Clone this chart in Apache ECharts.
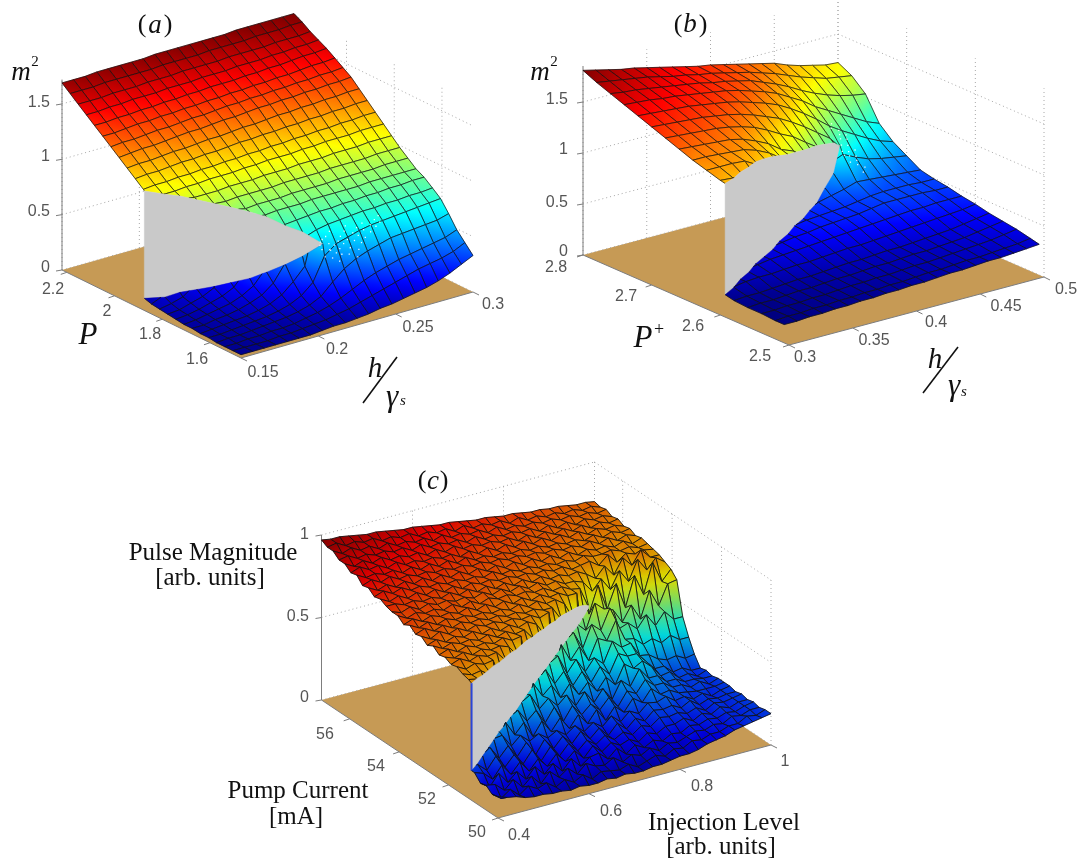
<!DOCTYPE html>
<html><head><meta charset="utf-8"><style>html,body{margin:0;background:#fff}#c{width:1080px;height:865px}</style>
<script src="https://cdn.jsdelivr.net/npm/echarts@6/dist/echarts.min.js"></script></head><body><div id="c"></div>
<script>
// ---------- panel (a) values ----------
const hA=[.15,.1575,.165,.1725,.18,.1875,.195,.2025,.21,.2175,.225,.2325,.24,.2475,.255,.2625,.27,.2775,.285,.2925,.3];
const pA=[1.47,1.504,1.538,1.572,1.606,1.64,1.675,1.709,1.743,1.777,1.811,1.845,1.879,1.913,1.947,1.981,2.015,2.049,2.084,2.118,2.152,2.186,2.22];
const zA=[
[.03,.03,.03,.03,.03,.03,.03,.04,.05,.05,.06,.07,.09,.10,.12,.14,.16,.19,.23,.28,.33],
[.03,.03,.03,.03,.04,.04,.05,.06,.07,.09,.11,.14,.17,.20,.23,.26,.29,.31,.33,.36,.41],
[.03,.03,.04,.04,.05,.05,.06,.08,.10,.13,.17,.22,.27,.31,.34,.37,.39,.41,.43,.45,.49],
[.03,.04,.04,.05,.06,.07,.08,.10,.13,.18,.28,.37,.43,.47,.50,.53,.54,.55,.56,.57,.60],
[.04,.04,.05,.06,.07,.08,.10,.13,.18,.27,.48,.56,.59,.62,.64,.65,.66,.67,.68,.69,.70],
[.04,.05,.06,.07,.08,.10,.13,.18,.27,.38,.68,.70,.71,.72,.73,.73,.74,.74,.75,.75,.76],
[.05,.05,.07,.08,.10,.13,.17,.25,.75,.76,.77,.78,.78,.79,.79,.80,.80,.81,.81,.82,.82],
[.05,.06,.08,.10,.12,.16,.22,.83,.84,.84,.84,.85,.85,.85,.85,.85,.86,.86,.86,.86,.86],
[.06,.07,.09,.12,.15,.20,.88,.89,.89,.89,.90,.90,.90,.90,.91,.91,.91,.91,.92,.92,.92],
[.07,.08,.11,.14,.19,.94,.95,.95,.95,.95,.96,.96,.96,.96,.97,.97,.97,.97,.98,.98,.98],
[.08,.10,.13,1.00,1.00,1.00,1.01,1.01,1.01,1.02,1.02,1.02,1.03,1.03,1.03,1.04,1.04,1.04,1.05,1.05,1.05],
[.09,1.05,1.05,1.06,1.06,1.07,1.07,1.07,1.08,1.08,1.09,1.09,1.09,1.10,1.10,1.11,1.11,1.11,1.12,1.12,1.12],
[1.09,1.10,1.10,1.11,1.11,1.12,1.12,1.13,1.13,1.14,1.14,1.15,1.15,1.16,1.16,1.17,1.17,1.18,1.18,1.19,1.19],
[1.15,1.16,1.16,1.17,1.18,1.18,1.19,1.19,1.20,1.21,1.21,1.22,1.22,1.23,1.23,1.24,1.24,1.25,1.25,1.26,1.26],
[1.21,1.22,1.22,1.23,1.24,1.24,1.25,1.26,1.26,1.27,1.28,1.28,1.29,1.30,1.30,1.31,1.31,1.32,1.32,1.33,1.33],
[1.27,1.28,1.29,1.29,1.30,1.31,1.32,1.32,1.33,1.34,1.34,1.35,1.36,1.36,1.37,1.37,1.38,1.38,1.39,1.39,1.40],
[1.33,1.34,1.34,1.35,1.36,1.36,1.37,1.38,1.38,1.39,1.40,1.40,1.41,1.41,1.42,1.42,1.43,1.43,1.44,1.44,1.45],
[1.39,1.39,1.40,1.41,1.41,1.42,1.42,1.43,1.43,1.44,1.44,1.45,1.45,1.46,1.46,1.47,1.47,1.48,1.49,1.49,1.50],
[1.45,1.45,1.46,1.46,1.47,1.47,1.48,1.48,1.49,1.49,1.50,1.50,1.50,1.51,1.51,1.52,1.52,1.53,1.54,1.54,1.55],
[1.51,1.51,1.52,1.52,1.53,1.53,1.53,1.54,1.54,1.54,1.55,1.55,1.55,1.56,1.56,1.56,1.57,1.57,1.58,1.58,1.59],
[1.57,1.57,1.57,1.58,1.58,1.58,1.59,1.59,1.59,1.60,1.60,1.60,1.60,1.61,1.61,1.61,1.61,1.62,1.62,1.62,1.63],
[1.63,1.63,1.63,1.64,1.64,1.64,1.64,1.64,1.65,1.65,1.65,1.65,1.66,1.66,1.66,1.66,1.67,1.67,1.67,1.68,1.68],
[1.69,1.69,1.69,1.70,1.70,1.70,1.70,1.70,1.71,1.71,1.71,1.71,1.71,1.71,1.71,1.72,1.72,1.72,1.72,1.72,1.72]];
const foldPA=[1.875,1.838,1.823,1.80,1.778,1.755,1.725,1.703,1.673,1.65,1.613];
const foldUpA=[1.08,1.06,1.03,.99,.95,.91,.87,.82,.74,.68,.58];
const foldLowA=[.11,.13,.16,.18,.20,.23,.27,.32,.39,.46,.58];
const speckA=[[.222,1.60,.56],[.226,1.59,.55],[.224,1.62,.60],[.228,1.61,.58],[.230,1.60,.57],[.226,1.625,.61],[.232,1.59,.54],[.229,1.63,.62],[.234,1.61,.58],[.231,1.575,.51],[.236,1.60,.56],[.233,1.64,.64],[.237,1.62,.60],[.240,1.61,.57],[.238,1.585,.53],[.241,1.63,.62],[.243,1.60,.56],[.245,1.62,.60],[.244,1.645,.64],[.247,1.61,.58],[.249,1.63,.62],[.250,1.60,.56],[.252,1.62,.60],[.254,1.64,.63],[.255,1.61,.58],[.258,1.63,.61],[.260,1.62,.60],[.262,1.64,.63],[.264,1.63,.61],[.266,1.65,.64],[.225,1.575,.50],[.228,1.565,.47],[.221,1.58,.52],[.235,1.57,.50],[.239,1.56,.47],[.242,1.575,.51],[.227,1.60,.54],[.223,1.615,.58],[.229,1.585,.52],[.246,1.59,.54]];
const hTicksA=[.15,.2,.25,.3], pTicksA=[1.6,1.8,2,2.2], zTicksA=[0,.5,1,1.5];
const hLabelsA=['0.15','0.2','0.25','0.3'], pLabelsA=['1.6','1.8','2','2.2'], zLabelsA=['0','0.5','1','1.5'];

// ---------- panel (b) values ----------
const hB=[.3,.31,.32,.33,.34,.35,.36,.37,.38,.39,.4,.41,.42,.43,.44,.45,.46,.47,.48,.49,.5];
const pB=[2.507,2.52,2.54,2.56,2.58,2.6,2.62,2.64,2.66,2.68,2.7,2.72,2.74,2.76,2.78,2.8];
const zB=[
[.18,.18,.19,.19,.20,.20,.21,.21,.22,.22,.23,.23,.24,.25,.25,.26,.27,.27,.28,.29,.30],
[.18,.19,.19,.20,.20,.21,.21,.22,.22,.23,.23,.24,.25,.25,.26,.27,.27,.28,.29,.30,.32],
[.19,.19,.20,.20,.21,.21,.22,.23,.23,.24,.24,.25,.26,.26,.27,.28,.29,.30,.31,.33,.35],
[.19,.20,.20,.21,.22,.22,.23,.24,.24,.25,.26,.26,.27,.28,.28,.29,.30,.31,.33,.35,.37],
[.20,.21,.21,.22,.23,.24,.24,.25,.26,.27,.27,.28,.29,.29,.30,.31,.32,.33,.35,.37,.39],
[1.32,1.31,.26,.27,.27,.28,.29,.29,.30,.31,.32,.32,.33,.34,.35,.36,.37,.38,.39,.40,.42],
[1.36,1.36,1.36,1.35,.30,.32,.33,.34,.35,.36,.37,.38,.39,.40,.41,.42,.43,.43,.44,.44,.44],
[1.40,1.40,1.39,1.38,1.37,1.33,1.27,.36,.38,.39,.41,.42,.43,.44,.46,.48,.48,.48,.48,.47,.47],
[1.45,1.44,1.43,1.42,1.41,1.38,1.33,1.27,1.18,1.13,.42,.43,.44,.45,.47,.49,.50,.50,.50,.49,.49],
[1.50,1.49,1.48,1.47,1.46,1.44,1.41,1.37,1.31,1.24,1.18,1.09,.47,.50,.53,.57,.56,.55,.54,.53,.52],
[1.55,1.54,1.53,1.52,1.51,1.49,1.47,1.44,1.40,1.35,1.30,1.23,1.15,1.06,.97,.78,.72,.67,.64,.62,.60],
[1.60,1.59,1.58,1.57,1.56,1.54,1.52,1.50,1.47,1.43,1.39,1.34,1.27,1.19,1.10,1.00,.92,.85,.78,.72,.68],
[1.65,1.64,1.63,1.61,1.60,1.58,1.56,1.54,1.52,1.49,1.45,1.41,1.36,1.29,1.22,1.13,1.06,.99,.92,.85,.80],
[1.70,1.68,1.67,1.65,1.63,1.61,1.59,1.57,1.54,1.52,1.49,1.46,1.41,1.36,1.30,1.23,1.17,1.12,1.08,1.05,1.03],
[1.75,1.73,1.71,1.69,1.67,1.64,1.61,1.59,1.56,1.54,1.51,1.48,1.45,1.41,1.37,1.32,1.27,1.23,1.19,1.17,1.15],
[1.81,1.78,1.75,1.72,1.70,1.67,1.64,1.61,1.58,1.55,1.53,1.50,1.47,1.44,1.41,1.38,1.33,1.29,1.26,1.23,1.22]];
const foldPB=[2.593,2.599,2.608,2.614,2.623,2.629,2.635,2.644,2.65,2.659,2.665,2.674,2.682,2.689,2.695,2.704];
const foldUpB=[1.31,1.31,1.31,1.31,1.30,1.28,1.25,1.20,1.16,1.12,1.09,1.05,1.02,.98,.94,.85];
const foldLowB=[.22,.24,.26,.28,.30,.32,.34,.36,.38,.40,.42,.44,.46,.55,.64,.85];
const speckB=[[.451,2.705,.86],[.453,2.71,.90],[.449,2.70,.82],[.452,2.695,.78],[.455,2.715,.92],[.454,2.70,.80],[.450,2.69,.74],[.456,2.705,.84],[.457,2.72,.94],[.453,2.685,.72],[.458,2.71,.88],[.451,2.72,.98],[.455,2.69,.74],[.459,2.70,.80],[.456,2.68,.70],[.454,2.725,1.0],[.452,2.675,.68],[.460,2.715,.90],[.448,2.695,.80],[.457,2.695,.76]];
const hTicksB=[.3,.35,.4,.45,.5], pTicksB=[2.5,2.6,2.7,2.8], zTicksB=[0,.5,1,1.5];
const hLabelsB=['0.3','0.35','0.4','0.45','0.5'], pLabelsB=['2.5','2.6','2.7','2.8'], zLabelsB=['0','0.5','1','1.5'];

// ---------- panel (c) values (z in hundredths) ----------
const hC=[.4,.42,.44,.46,.48,.5,.52,.54,.56,.58,.6,.62,.64,.66,.68,.7,.72,.74,.76,.78,.8,.82,.84,.86,.88,.9,.92,.94,.96,.98,1];
const pC=[50,50.24,50.48,50.71,50.95,51.19,51.43,51.67,51.9,52.14,52.38,52.62,52.86,53.1,53.33,53.57,53.81,54.05,54.29,54.52,54.76,55,55.24,55.48,55.71,55.95,56.19,56.43,56.67,56.9,57.14];
const zC=[
[13,11,10,8,7,7,6,6,5,6,5,5,6,5,6,5,5,6,6,7,8,8,9,11,12,13,15,16,17,18,19],
[12,8,12,7,11,8,10,6,9,6,9,5,8,7,6,8,5,7,9,7,10,9,12,11,13,13,15,15,18,17,19],
[15,14,9,14,8,13,7,13,8,12,7,12,9,8,11,7,10,8,11,8,11,10,12,14,13,15,14,17,16,18,18],
[14,10,17,10,15,9,15,9,14,8,14,8,12,13,8,13,8,12,9,12,10,13,12,15,14,16,15,17,16,18,19],
[18,16,11,18,11,17,10,16,10,16,10,15,9,15,10,14,11,13,10,14,12,15,15,17,14,17,15,18,16,18,18],
[72,19,14,21,13,19,12,19,11,18,11,17,11,16,12,16,12,15,12,16,14,18,17,18,16,18,15,18,17,18,19],
[73,71,72,24,16,22,14,21,12,20,13,19,13,19,13,18,12,18,13,18,15,20,19,20,17,20,16,18,17,18,18],
[75,72,74,72,73,26,18,23,18,21,17,20,16,20,15,19,15,20,15,20,17,22,21,23,19,20,17,19,16,18,19],
[74,76,73,75,73,74,30,21,27,17,25,17,24,16,23,16,23,15,22,17,24,20,27,22,23,20,19,18,18,18,19],
[76,74,76,73,75,73,74,72,32,24,29,20,28,18,26,19,24,19,25,18,26,23,30,25,25,21,21,18,20,17,19],
[75,77,74,76,74,75,73,75,72,73,36,26,31,25,30,22,29,21,28,20,30,25,34,27,27,22,22,19,19,18,18],
[78,75,77,75,76,74,76,73,75,72,73,39,30,35,26,33,25,31,24,31,25,36,32,35,30,23,24,19,20,17,19],
[76,78,75,77,75,77,74,76,73,75,72,74,71,42,32,38,28,35,27,35,29,40,37,37,31,25,25,20,21,18,18],
[79,76,79,76,78,75,77,75,76,74,75,73,74,71,73,45,33,40,31,38,33,45,40,41,32,31,27,25,26,23,24],
[78,80,77,79,76,78,76,77,75,76,74,75,73,74,72,72,48,37,44,34,46,43,54,41,40,35,37,33,36,32,32],
[81,78,80,77,79,77,78,76,77,75,76,74,76,73,75,72,73,69,50,39,52,47,59,45,47,42,49,41,48,42,42],
[79,81,78,80,78,79,77,79,76,78,75,77,74,76,73,75,72,73,70,70,46,61,56,54,45,54,44,60,49,61,62],
[82,79,81,79,80,78,80,77,79,76,78,76,77,75,76,74,75,72,73,70,69,52,68,52,66,50,68,55,73,60,66],
[82,80,82,79,81,79,80,78,79,77,79,76,78,75,77,74,76,73,74,71,71,69,62,68,60,70,62,74,66,72,68],
[83,83,81,82,80,81,79,81,78,80,77,79,76,78,75,77,74,76,73,74,72,73,70,66,72,65,74,68,76,70,70],
[85,82,84,81,83,80,82,79,81,78,80,78,79,77,78,76,77,75,76,74,75,72,73,74,70,75,69,73,71,72,71],
[84,86,83,85,82,83,81,82,80,81,79,80,78,80,77,78,76,77,75,76,74,75,73,75,73,73,74,72,73,71,72],
[87,84,86,83,85,82,84,81,83,80,82,79,81,78,80,77,79,76,78,75,77,74,76,73,75,73,74,72,74,71,73],
[86,88,85,87,84,85,83,84,82,83,81,82,80,81,79,80,78,79,77,78,76,77,75,76,74,76,73,75,72,74,72],
[90,87,88,86,87,84,86,83,85,82,84,81,83,80,81,79,80,78,79,77,78,76,77,75,76,74,76,73,75,73,74],
[89,91,88,89,86,88,85,86,84,85,83,84,81,83,80,82,79,81,78,80,77,79,76,78,75,77,74,76,74,75,73],
[92,89,91,88,90,87,88,86,87,84,86,83,85,82,83,81,82,80,81,78,80,77,79,76,78,75,77,74,76,74,75],
[92,93,90,91,89,90,88,89,86,88,85,86,84,85,82,84,81,82,80,81,79,80,77,79,76,78,75,77,75,76,74],
[95,92,94,91,92,89,91,88,89,87,88,85,87,84,85,83,84,81,83,80,81,79,80,78,79,77,78,76,77,75,76],
[95,96,93,94,92,93,90,91,89,90,87,88,86,87,84,86,83,84,82,83,80,82,79,80,78,79,77,78,76,77,75],
[97,96,96,95,94,93,93,92,91,90,90,89,88,87,87,86,85,84,84,83,82,82,81,80,80,79,79,78,77,77,76]];
const foldPC=[51.07,51.21,51.36,51.5,51.64,51.79,51.93,52.07,52.21,52.36,52.5,52.64,52.78,52.93,53.07,53.21,53.36,53.5,53.64,53.78,53.93,54.07];
const foldUpC=[71,71,70,70,70,69,69,69,68,68,68,67,67,66,66,65,65,64,63,62,60,57];
const foldLowC=[18,19,21,23,25,27,28,30,31,33,35,37,39,40,42,44,45,47,49,50,52,55];
const hTicksC=[.4,.6,.8,1], pTicksC=[50,52,54,56], zTicksC=[0,.5,1];
const hLabelsC=['0.4','0.6','0.8','1'], pLabelsC=['50','52','54','56'], zLabelsC=['0','0.5','1'];

// ---------- panel set-up ----------
const pct=a=>a.map(v=>Array.isArray(v)?pct(v):v/100);
const panels=[
 {hs:hA,ps:pA,zs:zA,foldP:foldPA,foldUp:foldUpA,foldLow:foldLowA,speck:speckA,hTicks:hTicksA,pTicks:pTicksA,zTicks:zTicksA,hLabels:hLabelsA,pLabels:pLabelsA,zLabels:zLabelsA,
  front:[241,358],sv:[232,-66],tv:[-179,-88],zPx:110.7,hR:[.15,.3],pR:[1.47,2.22],zTop:1.72,clim:[0,1.72],edge:.85,shade:1,
  hPos:[[263,373],[337,350],[418,328],[493,305]],pPos:[[197,360],[150,335],[107,312],[53,290]],zPos:[[50,268],[50,212],[50,157],[50,103]]},
 {hs:hB,ps:pB,zs:zB,foldP:foldPB,foldUp:foldUpB,foldLow:foldLowB,speck:speckB,hTicks:hTicksB,pTicks:pTicksB,zTicks:zTicksB,hLabels:hLabelsB,pLabels:pLabelsB,zLabels:zLabelsB,
  front:[789,345],sv:[255,-68],tv:[-206,-90],zPx:102,hR:[.3,.5],pR:[2.5,2.8],zTop:1.85,clim:[.18,1.81],edge:.85,shade:1,
  hPos:[[805,358],[874,341],[936,323],[1006,307],[1066,290]],pPos:[[760,357],[693,327],[626,297],[556,268]],zPos:[[568,252],[568,203],[568,150],[568,100]]},
 {hs:hC,ps:pC,zs:pct(zC),foldP:foldPC,foldUp:pct(foldUpC),foldLow:pct(foldLowC),speck:[],sliver:'#2a46d8',hTicks:hTicksC,pTicks:pTicksC,zTicks:zTicksC,hLabels:hLabelsC,pLabels:pLabelsC,zLabels:zLabelsC,
  front:[498,818],sv:[273,-73],tv:[-176.5,-118],zPx:165,hR:[.4,1],pR:[50,57.14],zTop:1,clim:[0,1],edge:1,shade:.86,
  hPos:[[519,836],[611,812],[702,787],[785,762]],pPos:[[477,833],[427,800],[376,767],[325,735]],zPos:[[309,698],[309,617],[309,535]]}
];
const SERIF='"Liberation Serif"',SANS='"Liberation Sans"',TICK='#555',INK='#111';
const f=(size,it)=>(it?'italic ':'')+size+'px '+SERIF;
const captions=[
 ['(',142,25,f(26),'center'],['a',155,26,f(27,1),'center'],[')',168,25,f(26),'center'],
 ['m',21,73,f(27,1),'center'],['2',35,62,f(15),'center'],['P',88,336,f(31,1),'center'],
 ['h',375,369,f(29,1),'center'],['γ',392,398,f(31,1),'center'],['s',403,401,f(15,1),'center'],
 ['(',678,25,f(26),'center'],['b',690,25,f(27,1),'center'],[')',703,25,f(26),'center'],
 ['m',540,73,f(27,1),'center'],['2',554,62,f(15),'center'],['P',643,339,f(31,1),'center'],['+',659,330,f(18),'center'],
 ['h',935,360,f(29,1),'center'],['γ',954,387,f(31,1),'center'],['s',964,392,f(15,1),'center'],
 ['(',422,481,f(26),'center'],['c',433,482,f(27,1),'center'],[')',444,481,f(26),'center'],
 ['Pulse Magnitude',213,553,f(25),'center'],['[arb. units]',210,578,f(25),'center'],
 ['Pump Current',298,791,f(25),'center'],['[mA]',296,817,f(25),'center'],
 ['Injection Level',724,823,f(25),'center'],['[arb. units]',721,847,f(25),'center']];
const slashes=[[363,403,397,357],[923,393,958,347]];

const lerp=(a,b,r)=>a+(b-a)*r;
const clamp=v=>Math.max(0,Math.min(1,v));
const jet=(v,sh)=>{v=clamp(v);const c=x=>Math.round(255*sh*clamp(1.5-Math.abs(4*v-x)));return `rgb(${c(3)},${c(2)},${c(1)})`;};
function proj(P,h,p,z){const s=(h-P.hR[0])/(P.hR[1]-P.hR[0]),t=(p-P.pR[0])/(P.pR[1]-P.pR[0]);
 return [P.front[0]+s*P.sv[0]+t*P.tv[0],P.front[1]+s*P.sv[1]+t*P.tv[1]-z*P.zPx];}

function buildPolys(P){
 const {hs,ps,zs,foldP,foldUp,foldLow}=P,nf=foldP.length,up=[],low=[];
 const depth=pts=>{let d=0;pts.forEach(q=>{d+=(q.h-P.hR[0])/(P.hR[1]-P.hR[0])+(q.p-P.pR[0])/(P.pR[1]-P.pR[0]);});return d/pts.length;};
 for(let j=0;j<hs.length-1;j++)for(let i=0;i<ps.length-1;i++){
  const n=[[j,i],[j+1,i],[j+1,i+1],[j,i+1]].map(([a,b])=>({h:hs[a],p:ps[b],z:zs[b][a]}));
  if(j+1<nf){
   const line=h=>lerp(foldP[j],foldP[j+1],(h-hs[j])/(hs[j+1]-hs[j]));
   const d=n.map(q=>q.p-line(q.h));
   if(d.every(v=>v>0)){up.push({pts:n});continue;}
   if(d.every(v=>v<=0)){low.push({pts:n});continue;}
   const U=[],L=[];
   for(let k=0;k<4;k++){const k2=(k+1)%4;
    if(d[k]>0)U.push(n[k]);else L.push(n[k]);
    if((d[k]>0)!==(d[k2]>0)){const r=d[k]/(d[k]-d[k2]),h=lerp(n[k].h,n[k2].h,r),u=(h-hs[j])/(hs[j+1]-hs[j]),p=line(h);
     U.push({h,p,z:lerp(foldUp[j],foldUp[j+1],u),fold:1});L.push({h,p,z:lerp(foldLow[j],foldLow[j+1],u),fold:1});}
   }
   up.push({pts:U});low.push({pts:L});
  } else {
   const avg=(n[0].p+n[3].p)/2;(avg<foldP[nf-1]?low:up).push({pts:n});
  }
 }
 const byD=(a,b)=>depth(b.pts)-depth(a.pts);
 up.sort(byD);low.sort(byD);
 const top=foldP.map((p,j)=>({h:hs[j],p,z:foldUp[j]})),bot=foldP.map((p,j)=>({h:hs[j],p,z:foldLow[j]})).reverse();
 return up.concat([{gray:1,pts:top.concat(bot)}],low);
}

function surfaceSeries(P){
 const list=buildPolys(P),[c0,c1]=P.clim,sh=P.shade,cv=z=>(z-c0)/(c1-c0);
 return {type:'custom',coordinateSystem:'cartesian2d',clip:false,animation:false,silent:true,progressive:0,
  data:list.map((_,k)=>[k,k]),encode:{x:0,y:1},
  renderItem(params,api){
   const it=list[api.value(0)],scr=it.pts.map(q=>api.coord(proj(P,q.h,q.p,q.z)));
   if(it.gray){
    const kids=[{type:'polygon',shape:{points:scr},style:{fill:'#c9c9c9',stroke:'#c9c9c9',lineWidth:.5}}];
    if(P.sliver){const a=api.coord(proj(P,P.hs[0],P.foldP[0],P.foldUp[0])),b=api.coord(proj(P,P.hs[0],P.foldP[0],P.foldLow[0]));
     kids.push({type:'line',shape:{x1:a[0],y1:a[1],x2:b[0],y2:b[1]},style:{stroke:P.sliver,lineWidth:2}});}
    return {type:'group',children:kids};
   }
   let lo=0,hi=0;it.pts.forEach((q,k)=>{if(q.z<it.pts[lo].z)lo=k;if(q.z>it.pts[hi].z)hi=k;});
   const zl=it.pts[lo].z,zh=it.pts[hi].z,stops=[0,.25,.5,.75,1].map(o=>({offset:o,color:jet(cv(lerp(zl,zh,o)),sh)}));
   const same=Math.hypot(scr[lo][0]-scr[hi][0],scr[lo][1]-scr[hi][1])<.5;
   const fill=same?jet(cv(zl),sh):new echarts.graphic.LinearGradient(scr[lo][0],scr[lo][1],scr[hi][0],scr[hi][1],stops,true);
   const kids=[{type:'polygon',shape:{points:scr},style:{fill,stroke:jet(cv((zl+zh)/2),sh),lineWidth:.4}}];
   it.pts.forEach((q,k)=>{const k2=(k+1)%it.pts.length,q2=it.pts[k2];if(q.fold&&q2.fold)return;
    kids.push({type:'line',shape:{x1:scr[k][0],y1:scr[k][1],x2:scr[k2][0],y2:scr[k2][1]},style:{stroke:INK,lineWidth:P.edge,opacity:.85}});});
   return {type:'group',children:kids};
  }};
}

function speckSeries(P){
 return {type:'custom',coordinateSystem:'cartesian2d',clip:false,animation:false,silent:true,
  data:P.speck.map((_,k)=>[k,k]),encode:{x:0,y:1},
  renderItem(params,api){const q=P.speck[api.value(0)],a=api.coord(proj(P,q[0],q[1],q[2]));
   return {type:'rect',shape:{x:a[0],y:a[1],width:1.3,height:1.3},style:{fill:'#ffffff',opacity:.9}};}};
}

function boxSeries(P){
 return {type:'custom',coordinateSystem:'cartesian2d',clip:false,animation:false,silent:true,data:[[0,0]],encode:{x:0,y:1},
  renderItem(params,api){
   const [h0,h1]=P.hR,[p0,p1]=P.pR,pt=(h,p,z)=>api.coord(proj(P,h,p,z)),kids=[];
   const line=(a,b,st)=>kids.push({type:'line',shape:{x1:a[0],y1:a[1],x2:b[0],y2:b[1]},style:st});
   const dot={stroke:'#a8a8a8',lineWidth:1,lineDash:[1,3]},sol={stroke:'#7d7d7d',lineWidth:1};
   kids.push({type:'polygon',shape:{points:[pt(h0,p0,0),pt(h1,p0,0),pt(h1,p1,0),pt(h0,p1,0)]},style:{fill:'#c69a55'}});
   P.zTicks.forEach(z=>{line(pt(h0,p1,z),pt(h1,p1,z),dot);line(pt(h1,p1,z),pt(h1,p0,z),dot);});
   P.hTicks.forEach(h=>line(pt(h,p1,0),pt(h,p1,P.zTop),dot));
   P.pTicks.forEach(p=>line(pt(h1,p,0),pt(h1,p,P.zTop),dot));
   line(pt(h0,p1,0),pt(h0,p1,P.zTop),sol);
   line(pt(h0,p0,0),pt(h1,p0,0),sol);line(pt(h0,p0,0),pt(h0,p1,0),sol);
   P.zTicks.forEach(z=>{const a=pt(h0,p1,z);line(a,[a[0]-6,a[1]+1],sol);});
   P.hTicks.forEach(h=>{const a=pt(h,p0,0);line(a,[a[0]+6,a[1]+3],sol);});
   P.pTicks.forEach(p=>{const a=pt(h0,p,0);line(a,[a[0]-6,a[1]+2],sol);});
   return {type:'group',children:kids};
  }};
}

function textSeries(){
 const items=[];
 panels.forEach(P=>{
  P.hLabels.forEach((s,k)=>items.push([s,P.hPos[k][0],P.hPos[k][1],'16px '+SANS,'center',TICK]));
  P.pLabels.forEach((s,k)=>items.push([s,P.pPos[k][0],P.pPos[k][1],'16px '+SANS,'center',TICK]));
  P.zLabels.forEach((s,k)=>items.push([s,P.zPos[k][0],P.zPos[k][1],'16px '+SANS,'right',TICK]));
 });
 captions.forEach(c=>items.push([c[0],c[1],c[2],c[3],c[4],'#111']));
 return {type:'custom',coordinateSystem:'cartesian2d',clip:false,animation:false,silent:true,
  data:items.map((_,k)=>[k,k]),encode:{x:0,y:1},
  renderItem(params,api){const it=items[api.value(0)],a=api.coord([it[1],it[2]]);
   return {type:'text',style:{text:it[0],x:a[0],y:a[1],font:it[3],fill:it[5],align:it[4],verticalAlign:'middle'}};}};
}
function slashSeries(){
 return {type:'custom',coordinateSystem:'cartesian2d',clip:false,animation:false,silent:true,
  data:slashes.map((_,k)=>[k,k]),encode:{x:0,y:1},
  renderItem(params,api){const s=slashes[api.value(0)],a=api.coord([s[0],s[1]]),b=api.coord([s[2],s[3]]);
   return {type:'line',shape:{x1:a[0],y1:a[1],x2:b[0],y2:b[1]},style:{stroke:'#111',lineWidth:1.6}};}};
}

const chart=echarts.init(document.getElementById('c'),null,{renderer:'canvas'});
chart.setOption({animation:false,backgroundColor:'#fff',
 grid:{left:0,right:0,top:0,bottom:0},
 xAxis:{type:'value',min:0,max:1080,show:false},
 yAxis:{type:'value',min:0,max:865,inverse:true,show:false},
 series:[...panels.flatMap(P=>[boxSeries(P),surfaceSeries(P),speckSeries(P)]),textSeries(),slashSeries()]});
</script></body></html>
